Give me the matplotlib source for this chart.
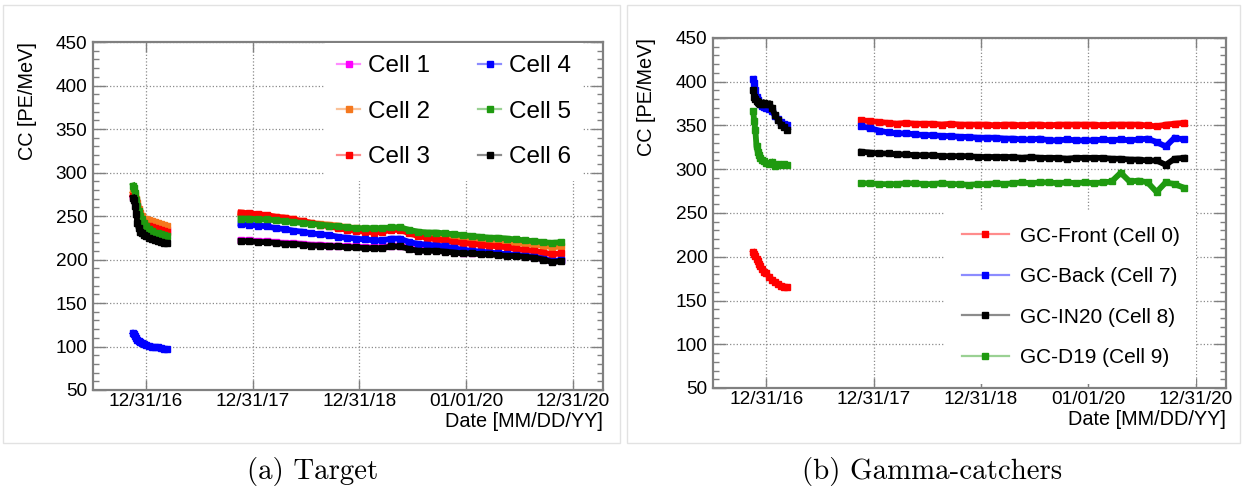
import matplotlib
matplotlib.use("Agg")
from matplotlib import pyplot as plt
from matplotlib.lines import Line2D
from matplotlib.patches import Rectangle
from matplotlib.ticker import MultipleLocator
import pandas as pd

plt.rcParams['font.family'] = ['Liberation Sans', 'DejaVu Sans']

# ---- dates of the two data taking periods ----
p1_dates = pd.to_datetime(['2016-11-17', '2016-11-20', '2016-11-24', '2016-11-28', '2016-12-02', '2016-12-06',
                           '2016-12-10', '2016-12-16', '2016-12-23', '2016-12-31', '2017-01-10', '2017-01-20',
                           '2017-01-30', '2017-02-10', '2017-02-20', '2017-03-02', '2017-03-13'])
p2_dates = pd.date_range('2017-11-20', '2020-11-20', freq=pd.DateOffset(months=1))

# ---- target cells [PE/MeV] ----
cell_names = ['Cell 1', 'Cell 2', 'Cell 3', 'Cell 4', 'Cell 5', 'Cell 6']
cell_colors = ['#ff00ff', '#f5781e', '#ff0000', '#0000ff', '#1f9a10', '#000000']

cell1_p1 = [272, 271, 269, 266, 261, 255, 250, 246, 243, 241, 240, 239, 238, 237, 236, 235, 234]
cell2_p1 = [277, 276, 274, 270, 265, 258, 253, 250, 247, 246, 245, 244, 243, 242, 241, 240, 239]
cell3_p1 = [273, 272, 270, 266, 260, 253, 247, 243, 240, 239, 238, 237, 236, 235, 234, 233, 232]
cell4_p1 = [115, 114, 112, 110, 108, 106, 105, 104, 103, 102, 101, 100, 99.5, 99, 98, 97.5, 97]
cell5_p1 = [285, 282, 276, 268, 262, 256, 250, 246, 242, 238, 235, 233, 231, 230, 229, 228, 227]
cell6_p1 = [271, 268, 262, 252, 242, 236, 232, 230, 228, 227, 225, 224, 222, 221, 220, 219.5, 219]

cell1_p2 = [222, 222, 221, 221, 220, 219, 219, 218, 217, 217, 216, 216, 215, 215, 214, 214, 214, 216, 216, 213,
            211, 211, 211, 210, 209, 208, 208, 207, 207, 206, 205, 205, 204, 203, 201, 198, 199]
cell2_p2 = [253, 252, 251, 250, 249, 248, 246, 244, 242, 241, 240, 239, 237, 236, 235, 235, 235, 236, 236, 233,
            231, 229, 228, 227, 226, 225, 224, 223, 222, 221, 220, 219, 218, 217, 216, 214, 215]
cell3_p2 = [254, 253, 252, 251, 249, 248, 246, 244, 242, 240, 238, 236, 234, 233, 232, 231, 232, 234, 234, 230,
            227, 225, 223, 222, 220, 219, 218, 217, 216, 215, 214, 212, 211, 210, 208, 206, 207]
cell4_p2 = [241, 240, 239, 238, 236, 235, 233, 232, 230, 229, 228, 226, 225, 224, 223, 222, 222, 224, 224, 220,
            218, 217, 216, 215, 213, 211, 210, 209, 208, 207, 206, 205, 204, 203, 201, 198, 199]
cell5_p2 = [247, 247, 246, 246, 245, 244, 243, 242, 241, 240, 239, 238, 237, 236, 236, 236, 236, 237, 237, 234,
            232, 231, 231, 230, 229, 228, 227, 226, 225, 225, 224, 223, 222, 221, 220, 219, 220]
cell6_p2 = [221, 221, 220, 220, 219, 218, 218, 217, 216, 216, 215, 215, 214, 214, 213, 213, 213, 215, 215, 212,
            210, 210, 210, 209, 208, 207, 207, 206, 206, 205, 204, 204, 203, 202, 200, 197, 198]

# ---- gamma-catcher cells [PE/MeV] ----
gc_names = ['GC-Front (Cell 0)', 'GC-Back (Cell 7)', 'GC-IN20 (Cell 8)', 'GC-D19 (Cell 9)']
gc_colors = ['#ff0000', '#0000ff', '#000000', '#1f9a10']

front_p1 = [205, 203, 201, 198, 195, 192, 189, 186, 183, 181, 177, 174, 171, 169, 167, 166, 165]
back_p1 = [403, 398, 390, 383, 379, 376, 374, 372, 371, 370, 369, 366, 361, 357, 354, 352, 351]
in20_p1 = [390, 383, 380, 378, 377, 376, 375, 374, 376, 374, 375, 370, 362, 356, 351, 348, 345]
d19_p1 = [366, 355, 345, 326, 320, 316, 313, 311, 309, 307, 306, 308, 304, 306, 305, 306, 305]

front_p2 = [356, 355, 354, 353, 352, 353, 352, 352, 352, 351, 352, 351, 351, 351, 351, 350, 351, 351, 350, 351,
            351, 350, 351, 351, 351, 351, 351, 350, 351, 351, 351, 351, 350, 349, 351, 352, 353]
back_p2 = [349, 347, 344, 342, 341, 341, 340, 339, 339, 338, 338, 337, 337, 336, 336, 336, 335, 335, 334, 334,
           335, 333, 333, 334, 333, 333, 333, 334, 333, 334, 333, 334, 335, 331, 326, 336, 334]
in20_p2 = [320, 319, 318, 318, 317, 317, 316, 316, 316, 315, 315, 315, 315, 314, 314, 314, 314, 314, 313, 314,
           313, 313, 313, 312, 313, 313, 313, 313, 312, 312, 311, 311, 310, 310, 305, 312, 313]
d19_p2 = [284, 284, 283, 283, 283, 284, 284, 283, 283, 284, 283, 283, 282, 283, 283, 284, 283, 284, 285, 284,
          285, 285, 284, 285, 284, 285, 284, 285, 286, 296, 286, 287, 285, 274, 285, 283, 279]

tick_dates = pd.to_datetime(['2016-12-31', '2017-12-31', '2018-12-31', '2020-01-01', '2020-12-31'])
tick_labels = ['12/31/16', '12/31/17', '12/31/18', '01/01/20', '12/31/20']

W, H = 1244, 492
fig = plt.figure(figsize=(W / 100, H / 100), dpi=100)

# light panel frames
for x0, x1 in [(3, 620), (627, 1240)]:
    fig.add_artist(Rectangle((x0 / W, 1 - 443 / H), (x1 - x0) / W, 438 / H, transform=fig.transFigure,
                             fill=False, ec='#e2e2e2', lw=1))

ax1 = fig.add_axes([93 / W, 1 - 390 / H, 510 / W, 348 / H])
ax2 = fig.add_axes([713 / W, 1 - 388 / H, 513 / W, 350 / H])

frame = '#808080'
for ax in (ax1, ax2):
    ax.set_xlim(pd.Timestamp('2016-07-03'), pd.Timestamp('2021-04-13'))
    ax.set_ylim(50, 450)
    ax.set_xticks(tick_dates)
    ax.set_xticklabels(tick_labels)
    ax.yaxis.set_major_locator(MultipleLocator(50))
    ax.yaxis.set_minor_locator(MultipleLocator(10))
    ax.grid(True, which='major', color='#8a8a8a', linestyle=':', linewidth=0.9)
    ax.set_axisbelow(True)
    for s in ax.spines.values():
        s.set_color(frame)
        s.set_linewidth(1.6)
    ax.tick_params(axis='both', which='both', direction='in', top=True, right=True, color=frame,
                   labelsize=13.7, labelcolor='black')
    ax.tick_params(axis='y', which='major', length=9, width=1, pad=4)
    ax.tick_params(axis='y', which='minor', length=4.5, width=1)
    ax.tick_params(axis='x', which='major', length=7, width=1, pad=2)
    ax.text(-0.129, 1.0, 'CC [PE/MeV]', transform=ax.transAxes, rotation=90, ha='center', va='top',
            fontsize=14.3)
    ax.text(1.0, -0.063, 'Date [MM/DD/YY]', transform=ax.transAxes, ha='right', va='top', fontsize=14.3)

style = dict(marker='s', markersize=4.2, linewidth=4.2, solid_joinstyle='miter')

target_p1 = [cell1_p1, cell2_p1, cell3_p1, cell4_p1, cell5_p1, cell6_p1]
target_p2 = [cell1_p2, cell2_p2, cell3_p2, cell4_p2, cell5_p2, cell6_p2]
for v1, v2, c in zip(target_p1, target_p2, cell_colors):
    ax1.plot(p1_dates, v1, color=c, **style)
    ax1.plot(p2_dates, v2, color=c, **style)

gc_p1 = [front_p1, back_p1, in20_p1, d19_p1]
gc_p2 = [front_p2, back_p2, in20_p2, d19_p2]
for v1, v2, c in zip(gc_p1, gc_p2, gc_colors):
    ax2.plot(p1_dates, v1, color=c, **style)
    ax2.plot(p2_dates, v2, color=c, **style)


def handles(colors):
    out = []
    for c in colors:
        rgba = matplotlib.colors.to_rgba(c, 0.45)
        out.append(Line2D([], [], color=rgba, lw=1.6, marker='s', markersize=5, markerfacecolor=c,
                          markeredgecolor=c))
    return out


leg1 = ax1.legend(handles(cell_colors), cell_names, ncol=2, loc='upper left',
                  bbox_to_anchor=(325 / W, 1 - 43 / H), bbox_transform=fig.transFigure,
                  fontsize=17.5, frameon=True, fancybox=False, edgecolor='none', facecolor='white', framealpha=1,
                  handlelength=0.95, handletextpad=0.3, labelspacing=0.97, columnspacing=2.0,
                  borderpad=0.5, borderaxespad=0)
leg2 = ax2.legend(handles(gc_colors), gc_names, ncol=1, loc='upper left',
                  bbox_to_anchor=(945 / W, 1 - 210 / H), bbox_transform=fig.transFigure,
                  fontsize=15, frameon=True, fancybox=False, edgecolor='none', facecolor='white', framealpha=1,
                  handlelength=2.26, handletextpad=0.53, labelspacing=1.03, borderpad=0.8, borderaxespad=0)

fig.text(313 / W, 1 - 471 / H, '(a) Target', family='cmr10', fontsize=20.8, ha='center', va='center')
fig.text(932 / W, 1 - 471 / H, '(b) Gamma-catchers', family='cmr10', fontsize=20.8, ha='center', va='center')

fig.savefig('out.png', dpi=100)
